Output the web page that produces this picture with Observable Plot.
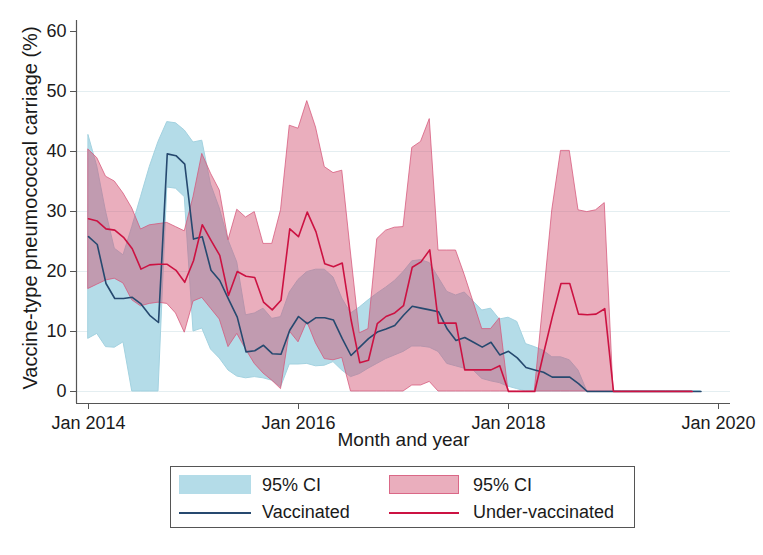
<!DOCTYPE html>
<html><head><meta charset="utf-8">
<script src="https://cdn.jsdelivr.net/npm/d3@7"></script>
<script src="https://cdn.jsdelivr.net/npm/@observablehq/plot@0.6"></script>
<style>
body{margin:0;background:#fff;font-family:"Liberation Sans",Arial,sans-serif;}
#wrap{position:relative;width:763px;height:555px;background:#fff;}
#legend{position:absolute;left:170px;top:466px;width:465px;height:62px;border:1px solid #555;box-sizing:border-box;font-size:18px;color:#1a1a1a;}
#legend .sw{position:absolute;box-sizing:border-box;}
#legend .ln{position:absolute;height:0;border-top:2px solid;}
#legend .tx{position:absolute;line-height:20px;white-space:nowrap;}
</style>
</head><body>
<div id="wrap"><div id="chart"></div><div id="legend"></div></div>
<script>
// Monthly values from Jan 2014 (index 0)
const vaccinated = [25.8,24.5,18,15.5,15.5,15.7,14.6,12.7,11.5,39.6,
 39.3,37.9,25.4,25.8,20.2,18.5,15.4,12.4,6.6,6.8,
 7.7,6.3,6.2,10.2,12.5,11.3,12.3,12.3,11.9,8.8,
 6,7.4,8.8,9.9,10.4,11,12.7,14.2,13.9,13.6,
 13.3,10.4,8.5,9,8.2,7.4,8.2,6.1,6.7,5.6,
 4,3.6,3.2,2.4,2.4,2.4,1.3,0,0,0,
 0,0,0,0,0,0,0,0,0,0,0];
const vaccinatedUpper = [42.7,37.5,30,23.8,22.7,27.4,32.4,37.4,41.6,44.9,
 44.7,43.5,41.5,41.8,34.5,30.5,25.2,21.5,12.7,13,
 13.8,12.1,12.4,16.5,18.6,19.9,20.3,20.3,19,15.5,
 13,14,15.2,16.3,17.3,18.4,19.9,21.7,21.9,21.4,
 19,16.6,16,16.5,15,13.5,13.8,12,12.3,11.6,
 7.9,7.4,6.8,5.7,5.7,5.2,3.5,0,0,0,
 0,0,0,0,0,0,0,0,0,0,0];
const vaccinatedLower = [8.8,9.6,7.4,7.3,8.2,0,0,0,0,34,
 33.8,32.4,10,10.5,7,5.5,3.5,2.5,2.2,2.4,
 2.2,1.8,0.7,4.5,4.5,4.6,4.2,4.3,4.9,3.5,
 2.4,2.9,3.8,4.6,5.4,6,6.6,7.5,7.5,7.3,
 6.6,4.6,4.2,3.8,3.5,2.1,1.7,1.4,0.8,0.4,
 0,0,0,0,0,0,0,0,0,0,
 0,0,0,0,0,0,0,0,0,0,0];
const underVaccinated = [28.8,28.4,27.1,26.9,25.7,23.8,20.4,21.1,21.2,21.2,
 20.2,18.2,21.8,27.8,25.2,22.7,16,20,19.2,19,
 14.9,13.6,15.2,27.1,25.8,29.9,26.6,21.3,20.8,21.4,
 12,4.8,5.2,11.3,12.5,13.1,14.3,20.7,21.6,23.6,
 11.4,11.4,11.4,3.6,3.6,3.6,3.6,4.3,0,0,
 0,0,6.3,12.4,18,18,12.9,12.8,12.9,13.8,
 0,0,0,0,0,0,0,0,0,0];
const underVaccinatedUpper = [40.3,38.9,35.8,35,33,30.5,27,27.7,27.9,28.1,
 27.4,26.7,32.4,39.6,36.3,33.5,25.2,30.3,29,29.9,
 24.6,24.6,30.2,44.3,43.8,48.4,44,37.4,36.4,36.8,
 23,9.7,10.4,25.4,26.8,27.3,27.4,40.6,41.6,45.4,
 23.5,23.5,23.5,19.4,14.9,10.4,10.4,12.2,0,0,
 0,0,15,30.2,40.1,40.1,30.2,29.9,30.2,31.4,
 0,0,0,0,0,0,0,0,0,0];
const underVaccinatedLower = [17.1,17.8,18.5,18.8,18,15.2,14.2,14.6,14.8,14.6,
 13,9.8,15,15.6,13.8,12,7.4,9.6,7,4.6,
 3,1.8,0.4,10,8.2,11.6,8,5.4,5.2,5.6,
 0,0,0,0,0,0,0,1,1,1.6,
 0,0,0,0,0,0,0,0,0,0,
 0,0,0,0,0,0,0,0,0,0,
 0,0,0,0,0,0,0,0,0,0];
const xTickValues = [0,24,48,72];
const xTickLabels = ["Jan 2014","Jan 2016","Jan 2018","Jan 2020"];
const yTickValues = [0,10,20,30,40,50,60];
const yGridValues = [0,10,20,30,40,50];
const yTitle = "Vaccine-type pneumococcal carriage (%)";
const xTitle = "Month and year";
const legendLabels = ["95% CI","95% CI","Vaccinated","Under-vaccinated"];

const colors = {
  vacFill:"#b4dce8", vacEdge:"#a3d2e0", vacLine:"#26496f",
  redFill:"#d14b6d", redEdge:"#d65679", redLine:"#cc1242"
};

const vacRows = vaccinated.map((v,i)=>({m:i, v, lo:vaccinatedLower[i], hi:vaccinatedUpper[i]}));
const redRows = underVaccinated.map((v,i)=>({m:i, v, lo:underVaccinatedLower[i], hi:underVaccinatedUpper[i]}));

const pad = 12/8.75;
const xDomain = [-pad, 72+pad];
const yDomain = [-2, 60+11/6];

const chart = Plot.plot({
  width:763, height:455,
  marginLeft:76, marginRight:33, marginTop:20, marginBottom:52,
  x:{domain:xDomain}, y:{domain:yDomain},
  style:{fontFamily:'"Liberation Sans",Arial,sans-serif', fontSize:"18px", color:"#1a1a1a", background:"white"},
  marks:[
    Plot.gridY(yGridValues,{stroke:"#e4eef1", strokeOpacity:1, strokeWidth:1.2}),
    Plot.areaY(vacRows,{x:"m", y1:"lo", y2:"hi", fill:colors.vacFill, fillOpacity:1, stroke:colors.vacEdge, strokeWidth:1, curve:"linear"}),
    Plot.areaY(redRows,{x:"m", y1:"lo", y2:"hi", fill:colors.redFill, fillOpacity:0.45, stroke:colors.redEdge, strokeOpacity:0.75, strokeWidth:1, curve:"linear"}),
    Plot.lineY(vacRows,{x:"m", y:"v", stroke:colors.vacLine, strokeWidth:1.6}),
    Plot.lineY(redRows,{x:"m", y:"v", stroke:colors.redLine, strokeWidth:1.6}),
    Plot.ruleX([xDomain[0]],{stroke:"#555", strokeWidth:1.2}),
    Plot.ruleY([yDomain[0]],{stroke:"#555", strokeWidth:1.2}),
    Plot.axisY(yTickValues,{tickSize:6, tickPadding:4, label:null, stroke:"#555", fontSize:18}),
    Plot.axisX(xTickValues,{tickSize:6, tickPadding:7, label:null, stroke:"#555", fontSize:18,
      tickFormat:d=>xTickLabels[xTickValues.indexOf(d)]}),
    Plot.text([yTitle],{text:d=>d, frameAnchor:"left", textAnchor:"middle", rotate:-90, dx:-46, dy:-4, fontSize:20, fill:"#1a1a1a"}),
    Plot.text([xTitle],{text:d=>d, frameAnchor:"bottom", textAnchor:"middle", dy:42, fontSize:19, fill:"#1a1a1a"})
  ]
});
document.getElementById("chart").appendChild(chart);

const lg = document.getElementById("legend");
function add(cls, style, text){const e=document.createElement("div");e.className=cls;Object.assign(e.style,style);if(text)e.textContent=text;lg.appendChild(e);}
add("sw",{left:"8px",top:"8px",width:"72px",height:"19px",background:colors.vacFill});
add("tx",{left:"91px",top:"8px"},legendLabels[0]);
add("sw",{left:"218px",top:"8px",width:"70px",height:"19px",background:"rgba(209,75,109,0.45)",border:"1px solid rgba(214,86,121,0.8)"});
add("tx",{left:"302px",top:"8px"},legendLabels[1]);
add("ln",{left:"8px",top:"45px",width:"72px",borderColor:colors.vacLine});
add("tx",{left:"91px",top:"35px"},legendLabels[2]);
add("ln",{left:"218px",top:"45px",width:"70px",borderColor:colors.redLine});
add("tx",{left:"302px",top:"35px"},legendLabels[3]);
</script>
</body></html>
